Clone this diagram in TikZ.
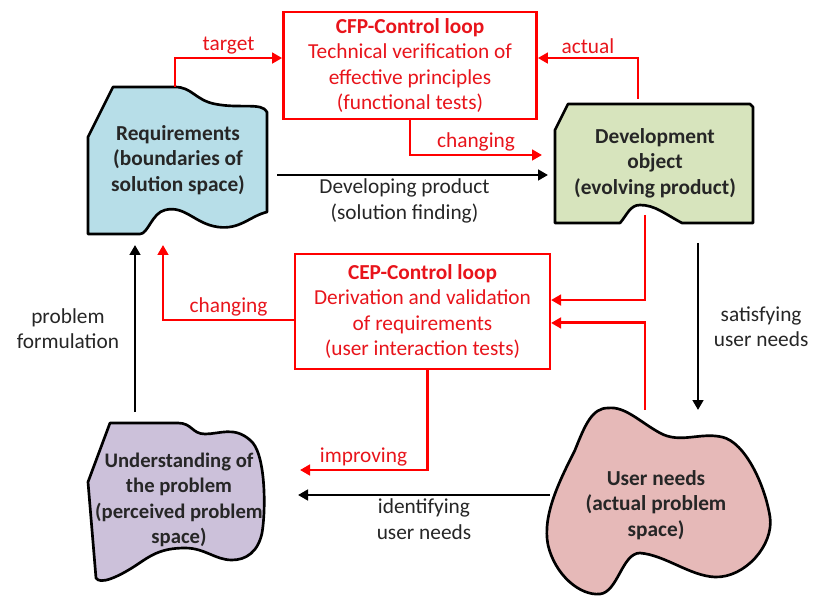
\documentclass[tikz,border=0pt]{standalone}
\usepackage{fontspec}
\setmainfont{Carlito}
\usepackage{tikz}
\usetikzlibrary{calc,positioning,arrows.meta}
\definecolor{loopred}{HTML}{FF0000}
\definecolor{looptext}{HTML}{E8141B}
\definecolor{reqblue}{HTML}{B7DEE8}
\definecolor{devgreen}{HTML}{D7E4BD}
\definecolor{probviolet}{HTML}{CCC1DA}
\definecolor{needpink}{HTML}{E6B9B8}
\definecolor{inkgray}{HTML}{262626}

\tikzset{
  blob/.style={draw=black, line width=2pt, line join=round},
  blobtext/.style={font=\fontsize{16}{19}\selectfont\bfseries, align=center, text=inkgray},
  loopbox/.style={draw=loopred, line width=1.8pt, text=looptext, align=center, inner sep=0pt},
  looparrow/.style={draw=loopred, line width=2.2pt, -{Triangle[length=7.5pt,width=8pt]}},
  flowarrow/.style={draw=black, line width=1.9pt, -{Triangle[length=7.5pt,width=8pt]}},
  looplabel/.style={text=looptext, inner sep=2pt},
  flowlabel/.style={text=inkgray, align=center, inner sep=2pt}
}

\begin{document}
\begin{tikzpicture}[x=0.75pt, y=-0.75pt, font=\fontsize{16}{19}\selectfont]
  \useasboundingbox (0,0) rectangle (813,598);

  % the four areas
  \filldraw[blob, fill=reqblue] (113,87) -- (175,87)
    .. controls (192,87) and (195,100) .. (215,104)
    .. controls (240,109) and (262,102) .. (267,112) -- (267,212)
    .. controls (250,216) and (240,230) .. (218,227)
    .. controls (195,224) and (185,205) .. (165,210)
    .. controls (152,213) and (148,234) .. (140,234) -- (88,234) -- (88,137) -- cycle;
  \filldraw[blob, fill=devgreen] (568,104) -- (750,104) -- (753,107) -- (753,223) -- (682,223)
    .. controls (665,214) and (655,205) .. (640,205)
    .. controls (630,205) and (627,215) .. (620,223) -- (555,223) -- (555,130) -- cycle;
  \filldraw[blob, fill=probviolet] (110,423) -- (178,423)
    .. controls (192,423) and (192,434) .. (205,434)
    .. controls (220,434) and (234,426) .. (250,440)
    .. controls (266,452) and (266,510) .. (262,533)
    .. controls (258,552) and (246,560) .. (232,560)
    .. controls (215,560) and (205,548) .. (185,548)
    .. controls (160,548) and (150,556) .. (135,566)
    .. controls (118,577) and (100,585) .. (96,578) -- (88,482) -- cycle;
  \filldraw[blob, fill=needpink] (608,408)
    .. controls (625,406) and (640,422) .. (660,433)
    .. controls (680,444) and (700,432) .. (722,437)
    .. controls (745,442) and (765,485) .. (770,517)
    .. controls (774,545) and (745,578) .. (715,577)
    .. controls (690,576) and (665,555) .. (640,553)
    .. controls (622,553) and (618,592) .. (600,594)
    .. controls (580,596) and (555,575) .. (548,545)
    .. controls (542,515) and (560,480) .. (575,450)
    .. controls (585,425) and (592,408) .. (608,408) -- cycle;

  \node[blobtext] (req) at (178,160) {Requirements\\(boundaries of\\solution space)};
  \node[blobtext] (dev) at (655,163) {Development\\object\\(evolving product)};
  \node[blobtext, font=\fontsize{15.5}{19}\selectfont\bfseries] (prob) at (179,500) {Understanding of\\the problem\\(perceived problem\\space)};
  \node[blobtext] (need) at (656,505) {User needs\\(actual problem\\space)};

  % control loops
  \node[loopbox, minimum width=190pt, minimum height=80pt] (cfp) at (410,65.5)
    {\textbf{CFP-Control loop}\\Technical verification of\\effective principles\\(functional tests)};
  \node[loopbox, minimum width=191pt, minimum height=86pt] (cep) at (422.5,311.5)
    {\textbf{CEP-Control loop}\\Derivation and validation\\of requirements\\(user interaction tests)};

  % ends on the area outlines
  \coordinate (req-top) at (175,87);
  \coordinate (req-out) at (277,175);
  \coordinate (req-in) at (135,245);
  \coordinate (req-red) at (163,245);
  \coordinate (dev-top) at (638,99);
  \coordinate (dev-in) at (548,175);
  \coordinate (dev-red) at (542,155);
  \coordinate (dev-bot) at (645,215);
  \coordinate (dev-out) at (698,243);
  \coordinate (need-in) at (698,410);
  \coordinate (need-top) at (645,410);
  \coordinate (need-out) at (550,495);
  \coordinate (prob-in) at (298,495);
  \coordinate (prob-red) at (300,470);
  \coordinate (prob-top) at (135,412);

  % red loop connections
  \draw[looparrow] (req-top) |- node[pos=0.75, above, looplabel] (target) {target} ([yshift=5.6pt]cfp.west);
  \draw[looparrow] (dev-top) |- node[pos=0.75, above, looplabel] (actual) {actual} ([yshift=5.6pt]cfp.east);
  \draw[looparrow] (cfp.south) |- node[pos=0.75, above, looplabel] (change-dev) {changing} (dev-red);
  \draw[looparrow] (dev-bot) |- ([yshift=8.6pt]cep.east);
  \draw[looparrow] (need-top) |- ([yshift=-8.6pt]cep.east);
  \draw[looparrow] ([yshift=-6.4pt]cep.west) -| node[pos=0.25, above, looplabel] (change-req) {changing} (req-red);
  \draw[looparrow] ([xshift=3.4pt]cep.south) |- node[pos=0.75, above, looplabel] (improve) {improving} (prob-red);

  % black development cycle
  \draw[flowarrow] (req-out) -- node[below, flowlabel, xshift=-6pt] (develop) {Developing product\\(solution finding)} (dev-in);
  \draw[flowarrow] (dev-out) -- node[right, flowlabel, xshift=9pt] (satisfy) {satisfying\\user needs} (need-in);
  \draw[flowarrow] (need-out) -- node[below, flowlabel] (identify) {identifying\\user needs} (prob-in);
  \draw[flowarrow] (prob-top) -- node[left, flowlabel, xshift=-9pt] (formulate) {problem\\formulation} (req-in);
\end{tikzpicture}
\end{document}
